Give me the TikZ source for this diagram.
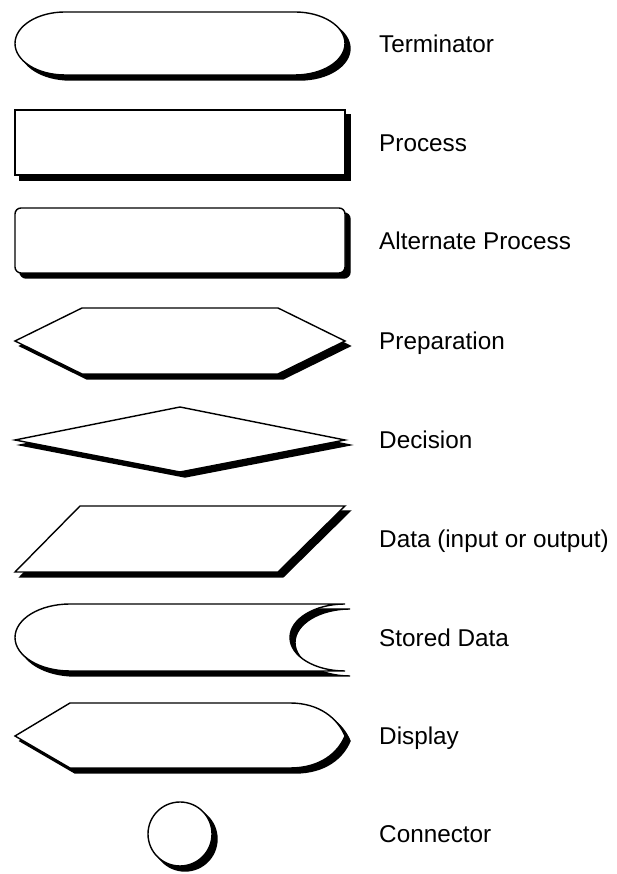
\documentclass[tikz,border=0pt]{standalone}
\usepackage{fontspec}
\setmainfont{Liberation Sans}
\begin{document}
\begin{tikzpicture}[x=1pt,y=1pt,
  shp/.style={draw=black, line width=1.4pt, fill=white, line join=miter,
    preaction={draw=black, fill=black, line width=1.4pt,
      transform canvas={xshift=5pt,yshift=-5pt}}},
  lbl/.style={anchor=base west, inner sep=0pt, font=\fontsize{24.3}{29}\selectfont}]
\useasboundingbox (0,0) rectangle (616,874);
% Terminator
\path[shp] (65,862) -- (295,862) arc[start angle=90, end angle=-90, x radius=50, y radius=31.5]
  -- (65,799) arc[start angle=270, end angle=90, x radius=50, y radius=31.5] -- cycle;
% Process
\path[shp] (15,764) rectangle (345,699);
% Alternate process
\path[shp, rounded corners=6pt] (15,666) rectangle (345,601);
% Preparation
\path[shp] (15,533) -- (82,566) -- (278,566) -- (345,533) -- (278,500) -- (82,500) -- cycle;
% Decision
\path[shp] (15,434) -- (180,467) -- (345,434) -- (180,402) -- cycle;
% Data
\path[shp] (80,368) -- (345,368) -- (278,302) -- (15,302) -- cycle;
% Stored data
\path[shp] (70,270) -- (345,270) arc[start angle=90, end angle=270, x radius=55, y radius=33.5]
  -- (70,203) arc[start angle=270, end angle=90, x radius=55, y radius=33.5] -- cycle;
% Display
\path[shp] (15,138) -- (70,171) -- (290,171) .. controls (320,171) and (338,155) .. (345,138)
  .. controls (338,121) and (320,106) .. (290,106) -- (70,106) -- cycle;
% Connector
\path[shp] (180,40) circle[radius=32];
% Labels
\node[lbl] (t1) at (379,821.7) {Terminator};
\node[lbl] (t2) at (379,722.7) {Process};
\node[lbl] (t3) at (379,624.7) {Alternate Process};
\node[lbl] (t4) at (379,524.2) {Preparation};
\node[lbl] (t5) at (379,425.2) {Decision};
\node[lbl] (t6) at (379,326.2) {Data (input or output)};
\node[lbl] (t7) at (379,227.7) {Stored Data};
\node[lbl] (t8) at (379,129.7) {Display};
\node[lbl] (t9) at (379,31.2) {Connector};
\end{tikzpicture}
\end{document}
